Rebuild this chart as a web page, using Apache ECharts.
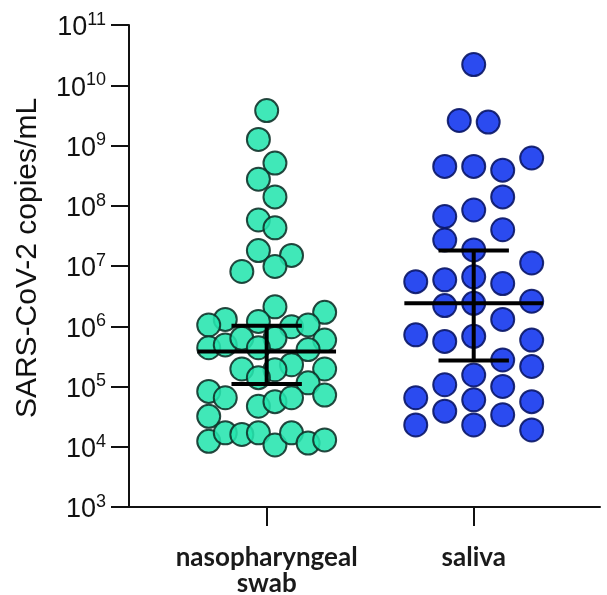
<!DOCTYPE html>
<html>
<head>
<meta charset="utf-8">
<script src="https://cdn.jsdelivr.net/npm/echarts@6/dist/echarts.min.js"></script>
<style>
html,body{margin:0;padding:0;background:#fff;}
#chart{width:607px;height:595px;}
</style>
</head>
<body>
<div id="chart"></div>
<script>
// ---- data ----
const categories = ['nasopharyngeal\nswab', 'saliva'];

// nasopharyngeal swab: copies/mL and horizontal jitter (category units)
const nasoValues = [3.8e9, 1.26e9, 5.1e8, 2.75e8, 1.4e8, 5.8e7, 4.3e7, 1.8e7, 1.5e7, 9.8e6, 8.1e6,
  2.1e6, 1.7e6, 1.3e6, 1.2e6, 1.05e6, 9.8e5, 1.05e6, 5.9e5, 4.4e5, 4.9e5, 6.3e5, 6.3e5, 4.4e5, 4.1e5,
  1.95e5, 2.3e5, 1.9e5, 1.95e5, 1.15e5, 1.4e5, 8.3e4, 6.5e4, 4.7e4, 5.6e4, 6.5e4, 7.2e4, 3.2e4,
  1.23e4, 1.7e4, 1.6e4, 1.7e4, 1.07e4, 1.7e4, 1.15e4, 1.3e4];
const nasoJitter = [0, -0.04, 0.04, -0.04, 0.04, -0.04, 0.04, -0.04, 0.12, 0.04, -0.12,
  0.04, 0.28, -0.20, -0.04, -0.28, 0.12, 0.20, 0.28, -0.28, -0.20, -0.12, 0.04, -0.04, 0.20,
  -0.12, 0.12, 0.04, 0.28, 0.20, -0.04, -0.28, -0.20, -0.04, 0.04, 0.12, 0.28, -0.28,
  -0.28, -0.20, -0.12, -0.04, 0.04, 0.12, 0.20, 0.28];

// saliva
const salivaValues = [2.2e10, 2.6e9, 2.45e9, 4.5e8, 4.5e8, 3.9e8, 6.2e8, 1.4e8, 8.5e7, 6.6e7, 4.0e7,
  2.7e7, 1.85e7, 1.12e7, 5.5e6, 5.9e6, 6.6e6, 5.1e6, 2.2e6, 2.4e6, 2.6e6, 1.3e6, 7.2e5, 5.6e5,
  6.8e5, 5.9e5, 2.75e5, 2.15e5, 1.55e5, 1.07e5, 1.0e5, 6.5e4, 6.0e4, 5.6e4, 3.9e4, 3.4e4,
  2.3e4, 2.3e4, 1.9e4];
const salivaJitter = [0, -0.07, 0.07, -0.14, 0, 0.14, 0.28, 0.14, 0, -0.14, 0.14,
  -0.14, 0, 0.28, -0.28, -0.14, 0, 0.14, -0.14, 0, 0.28, 0.14, -0.28, -0.14,
  0, 0.28, 0.14, 0.28, 0, -0.14, 0.14, -0.28, 0, 0.28, -0.14, 0.14,
  -0.28, 0, 0.28];

// median and interquartile range per category
const medians = [3.8e5, 2.4e6];
const q1 = [1.1e5, 2.7e5];
const q3 = [1.02e6, 1.8e7];

// ---- chart ----
const nasoData = nasoValues.map((v, i) => [1 + nasoJitter[i], v]);
const salivaData = salivaValues.map((v, i) => [2 + salivaJitter[i], v]);
const statData = categories.map((c, i) => [i + 1, medians[i], q1[i], q3[i]]);

const chart = echarts.init(document.getElementById('chart'), null, {renderer: 'canvas'});
chart.setOption({
  animation: false,
  backgroundColor: '#ffffff',
  grid: {left: 129, right: 7, top: 25, bottom: 88, containLabel: false, outerBoundsMode: 'none'},
  xAxis: {
    type: 'value', min: 0.335, max: 2.61,
    splitLine: {show: false},
    axisLine: {show: true, onZero: false, lineStyle: {color: '#111', width: 2}},
    axisTick: {show: true, length: 19, lineStyle: {color: '#111', width: 2}, customValues: [1, 2]},
    axisLabel: {
      show: true, customValues: [1, 2], margin: 38,
      formatter: v => categories[Math.round(v) - 1] || '',
      fontFamily: 'Lato', fontWeight: 'bold', fontSize: 26, lineHeight: 26, color: '#1a1a1a'
    }
  },
  yAxis: {
    type: 'log', logBase: 10, min: 1e3, max: 1e11, interval: 1,
    splitLine: {show: false},
    axisLine: {show: true, lineStyle: {color: '#111', width: 2}},
    axisTick: {show: true, length: 18, lineStyle: {color: '#111', width: 2}},
    axisLabel: {
      margin: 23,
      formatter: v => '{b|10}{s|' + Math.round(Math.log10(v)) + '}',
      rich: {
        b: {fontFamily: 'Liberation Sans', fontSize: 27, color: '#111', padding: [6, 0, 0, 0]},
        s: {fontFamily: 'Liberation Sans', fontSize: 18, color: '#111', padding: [0, 0, 10, 0]}
      }
    },
    name: 'SARS-CoV-2 copies/mL',
    nameLocation: 'middle', nameGap: 86, nameRotate: 90,
    nameTextStyle: {fontFamily: 'Liberation Sans', fontSize: 30, color: '#111', padding: [0, 0, 0, 16]}
  },
  series: [
    {
      type: 'scatter', data: nasoData, symbol: 'circle', symbolSize: 23,
      itemStyle: {color: '#26E5AE', borderColor: '#0f2f27', borderWidth: 2, opacity: 0.88},
      z: 2
    },
    {
      type: 'scatter', data: salivaData, symbol: 'circle', symbolSize: 23,
      itemStyle: {color: '#1437EE', borderColor: '#0a1666', borderWidth: 2, opacity: 0.9},
      z: 2
    },
    {
      type: 'custom', data: statData, z: 5,
      renderItem: function (params, api) {
        const c = api.value(0), m = api.value(1), lo = api.value(2), hi = api.value(3);
        const style = {stroke: '#000', lineWidth: 4};
        const seg = (a, b) => ({type: 'line', shape: {x1: a[0], y1: a[1], x2: b[0], y2: b[1]}, style: style});
        return {
          type: 'group',
          children: [
            seg(api.coord([c - 0.335, m]), api.coord([c + 0.335, m])),
            seg(api.coord([c - 0.17, lo]), api.coord([c + 0.17, lo])),
            seg(api.coord([c - 0.17, hi]), api.coord([c + 0.17, hi])),
            seg(api.coord([c, lo]), api.coord([c, hi]))
          ]
        };
      }
    }
  ]
});
</script>
</body>
</html>
